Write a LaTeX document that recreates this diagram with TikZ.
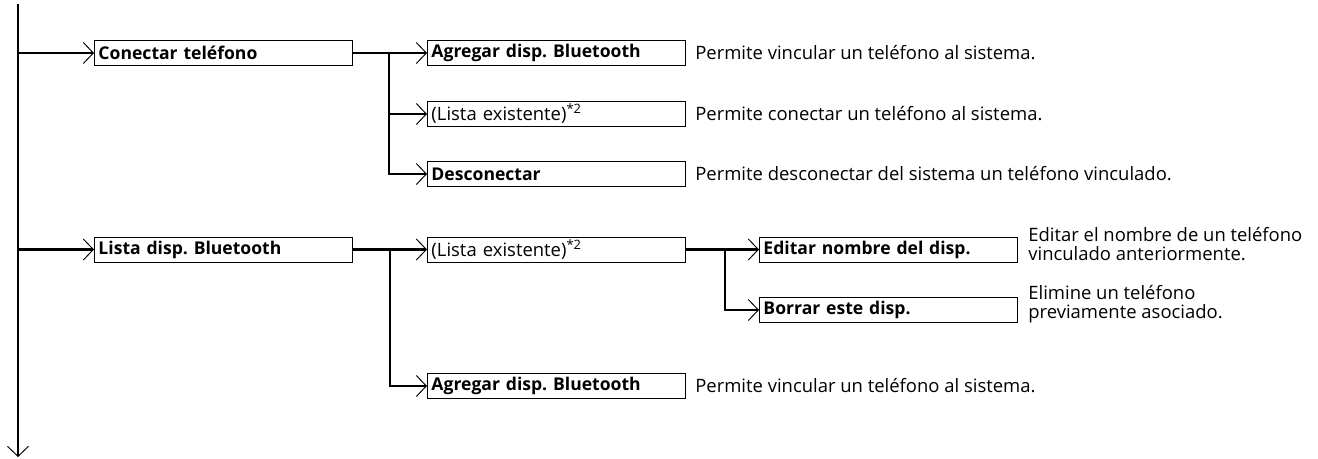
\documentclass[tikz,border=0pt]{standalone}
\usepackage{fontspec}
\setmainfont{Open Sans}
\usetikzlibrary{arrows.meta,positioning,calc}

\begin{document}
\frenchspacing
\begin{tikzpicture}[
    x=0.02cm,y=-0.02cm,
    mBox/.style={draw,line width=0.55pt,anchor=west,minimum width=5.16cm,minimum height=0.5cm,
                 text width=5.0cm,inner xsep=2pt,inner ysep=1pt,align=left,
                 font=\fontsize{10}{11}\selectfont\bfseries},
    iBox/.style={mBox,font=\fontsize{10.5}{11}\selectfont},
    desc/.style={anchor=west,align=left,inner sep=0pt,font=\fontsize{10.5}{11.2}\selectfont},
    ln/.style={line width=1.2pt},
    arr/.style={ln,-{Straight Barb[length=2mm,width=4.2mm,line width=0.55pt]}}
  ]
  \useasboundingbox (0,0) rectangle (1318,458);

  % main spine
  \coordinate (top) at (18,4);
  \coordinate (bot) at (18,457);
  \draw[arr] (top) -- (bot);

  % Level 1
  \node(conn)[mBox] at (94,53) {Conectar teléfono};
  \node(list)[mBox] at (94,249.5) {Lista disp. Bluetooth};

  % Level 2: Conectar telefono
  \node(add1)[mBox] at (427,53) {Agregar disp. Bluetooth};
  \node(ex1)[iBox] at (427,114) {(Lista existente)\textsuperscript{*2}};
  \node(disc)[mBox] at (427,174) {Desconectar};

  % Level 2: Lista disp.
  \node(ex2)[iBox] at (427,249.5) {(Lista existente)\textsuperscript{*2}};
  \node(add2)[mBox] at (427,386) {Agregar disp. Bluetooth};

  % Level 3
  \node(edit)[mBox] at (759,249.5) {Editar nombre del disp.};
  \node(del)[mBox] at (759,310) {Borrar este disp.};

  % Descriptions
  \node(dAdd1)[desc] at (695,53) {Permite vincular un teléfono al sistema.};
  \node(dEx1)[desc] at (695,114) {Permite conectar un teléfono al sistema.};
  \node(dDisc)[desc] at (695,174) {Permite desconectar del sistema un teléfono vinculado.};
  \node(dAdd2)[desc] at (695,386) {Permite vincular un teléfono al sistema.};
  \node(dEdit)[desc] at (1028,244) {Editar el nombre de un teléfono\\vinculado anteriormente.};
  \node(dDel)[desc] at (1028,304) {Elimine un teléfono\\previamente asociado.};

  % Spine arrows
  \draw[arr] (top |- conn.west) -- (conn.west);
  \draw[arr] (top |- list.west) -- (list.west);

  % Branches
  \coordinate (j1) at ($(conn.east)+(36,0)$);
  \draw[ln] (conn.east) -- (j1);
  \draw[arr] (j1) -- (add1.west);
  \draw[arr] (j1) |- (ex1.west);
  \draw[arr] (j1) |- (disc.west);

  \coordinate (j2) at ($(list.east)+(37,0)$);
  \draw[ln] (list.east) -- (j2);
  \draw[arr] (j2) -- (ex2.west);
  \draw[arr] (j2) |- (add2.west);

  \coordinate (j3) at ($(ex2.east)+(39,0)$);
  \draw[ln] (ex2.east) -- (j3);
  \draw[arr] (j3) -- (edit.west);
  \draw[arr] (j3) |- (del.west);
\end{tikzpicture}
\end{document}
